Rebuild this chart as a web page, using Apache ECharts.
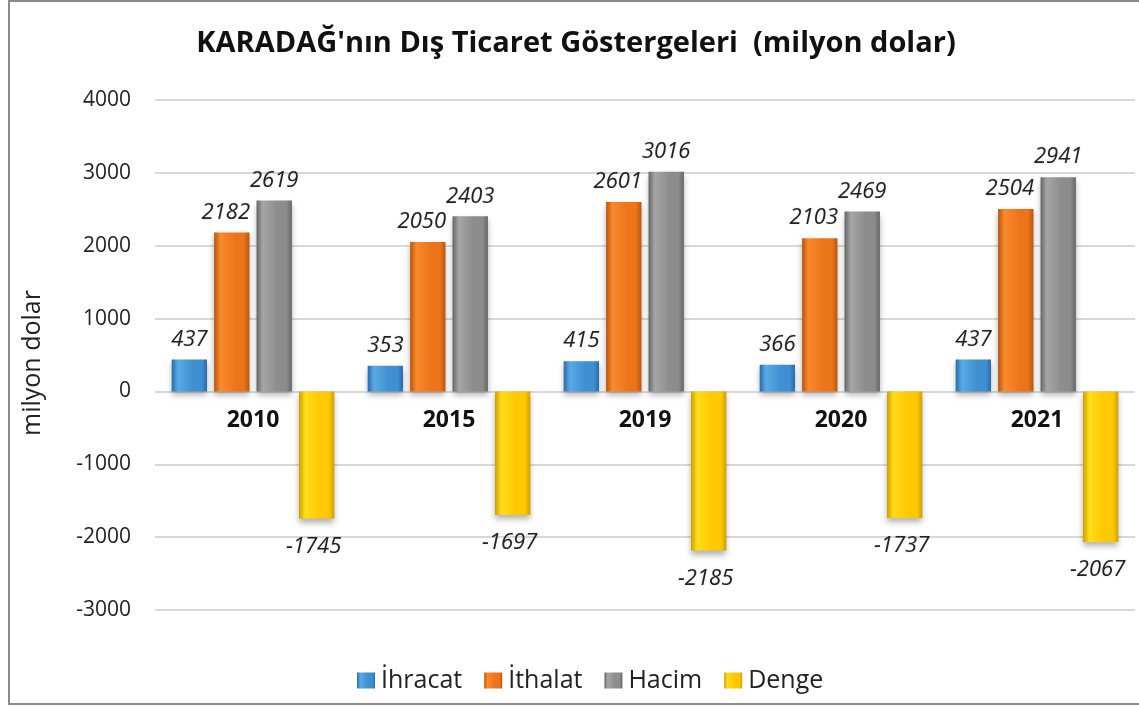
<!DOCTYPE html>
<html><head><meta charset="utf-8">
<script src="https://cdn.jsdelivr.net/npm/echarts@6/dist/echarts.min.js"></script>
<style>html,body{margin:0;padding:0;background:#fff}#c{width:1139px;height:708px}</style>
</head><body><div id="c"></div>
<script>
var categories = ['2010', '2015', '2019', '2020', '2021'];
var ihracat = [437, 353, 415, 366, 437];
var ithalat = [2182, 2050, 2601, 2103, 2504];
var hacim = [2619, 2403, 3016, 2469, 2941];
var denge = [-1745, -1697, -2185, -1737, -2067];
var seriesNames = ['İhracat', 'İthalat', 'Hacim', 'Denge'];
var yTicks = [-3000, -2000, -1000, 0, 1000, 2000, 3000, 4000];

var FONT = 'Open Sans';
var GRID_TOP = 100, GRID_BOTTOM = 98, H = 708;
var yMin = yTicks[0], yMax = yTicks[yTicks.length - 1];
var plotH = H - GRID_TOP - GRID_BOTTOM;
var zeroOffset = -plotH * (0 - yMin) / (yMax - yMin);

function grad(dark, light, mid) {
  return new echarts.graphic.LinearGradient(0, 0, 1, 0, [
    {offset: 0, color: dark}, {offset: 0.18, color: light},
    {offset: 0.6, color: mid}, {offset: 0.85, color: mid}, {offset: 1, color: dark}
  ]);
}
var colors = [
  grad('#2a6aad', '#5aaae6', '#3f8fd2'),
  grad('#b9540e', '#fb8a2c', '#ec7419'),
  grad('#656565', '#a6a6a6', '#8c8c8c'),
  grad('#cf9f00', '#ffdc1a', '#ffc800')
];
var lbl = {
  show: true, position: 'top', distance: 9,
  fontFamily: FONT, fontStyle: 'italic', fontSize: 22, color: '#222',
  textShadowColor: 'rgba(0,0,0,0.15)', textShadowBlur: 2
};
function mk(name, data, ci, pos, dx) {
  return {
    name: name, type: 'bar', data: data,
    barCategoryGap: '17%', barGap: '20%',
    itemStyle: {color: colors[ci], shadowColor: 'rgba(0,0,0,0.3)', shadowBlur: 6, shadowOffsetY: 4},
    label: Object.assign({}, lbl, {offset: [dx || 0, 0]}, pos ? {position: pos, distance: 17} : {})
  };
}
var chart = echarts.init(document.getElementById('c'));
chart.setOption({
  animation: false,
  title: {
    text: "KARADAĞ'nın Dış Ticaret Göstergeleri  (milyon dolar)",
    left: 571, top: 24, textAlign: 'center',
    textStyle: {fontFamily: FONT, fontWeight: 'bold', fontSize: 29, color: '#111'}
  },
  legend: {
    bottom: 10, left: 352, itemWidth: 18, itemHeight: 16, itemGap: 22,
    icon: 'rect',
    textStyle: {fontFamily: FONT, fontSize: 25, color: '#222', padding: [0, 0, 0, 1]},
    data: seriesNames
  },
  grid: {left: 155, right: 4, top: GRID_TOP, bottom: GRID_BOTTOM},
  xAxis: {
    type: 'category', data: categories, offset: zeroOffset,
    axisLine: {show: false, onZero: false}, axisTick: {show: false},
    axisLabel: {fontFamily: FONT, fontWeight: 'bold', fontSize: 23, color: '#111', margin: 18}
  },
  yAxis: {
    type: 'value', min: yMin, max: yMax, interval: 1000,
    name: 'milyon dolar', nameLocation: 'middle', nameGap: 110,
    nameTextStyle: {fontFamily: FONT, fontSize: 25, color: '#222', padding: [0, 16, 0, 0]},
    axisLabel: {fontFamily: FONT, fontSize: 21, color: '#222', margin: 24, formatter: function (v) { return String(v); }},
    splitLine: {lineStyle: {color: '#d9d9d9', width: 2}}
  },
  graphic: [{
    type: 'rect', shape: {x: 9, y: 1, width: 1140, height: 703},
    style: {fill: 'none', stroke: '#8a8a8a', lineWidth: 2}, silent: true, z: 100
  }],
  series: [
    mk(seriesNames[0], ihracat, 0),
    mk(seriesNames[1], ithalat, 1, null, -6),
    mk(seriesNames[2], hacim, 2),
    mk(seriesNames[3], denge, 3, 'bottom', -3)
  ]
});
</script></body></html>
